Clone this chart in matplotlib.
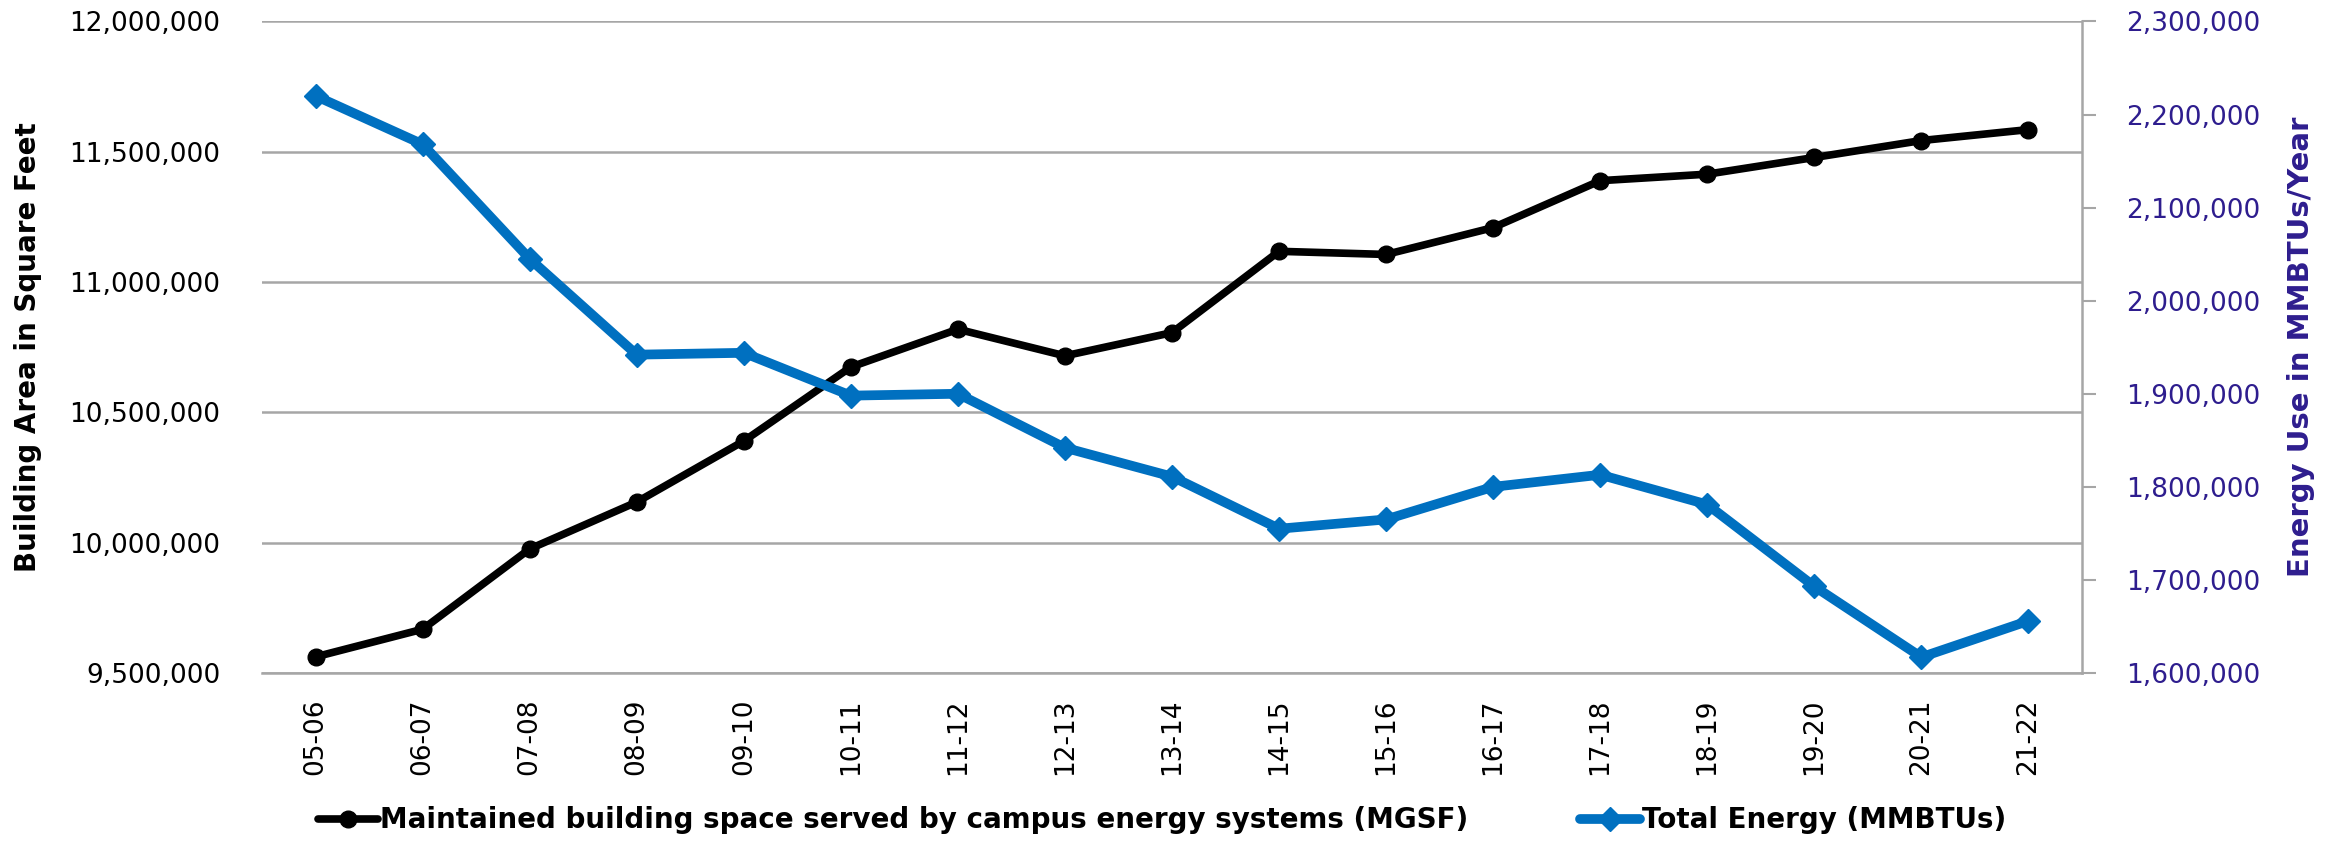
import matplotlib
matplotlib.use("Agg")
import matplotlib.pyplot as plt
from matplotlib.ticker import FuncFormatter, MultipleLocator

# fiscal years
years = ['05-06', '06-07', '07-08', '08-09', '09-10', '10-11', '11-12', '12-13',
         '13-14', '14-15', '15-16', '16-17', '17-18', '18-19', '19-20', '20-21', '21-22']

# maintained building space (sq ft), left axis
building_sqft = [9562000, 9668000, 9976000, 10156000, 10390000, 10674000, 10819000, 10717000,
                 10806000, 11118000, 11106000, 11209000, 11389000, 11414000, 11478000, 11543000, 11585000]

# total energy (MMBTUs), right axis
energy_mmbtu = [2220000, 2168000, 2045000, 1942000, 1944000, 1898000, 1900000, 1842000,
                1811000, 1755000, 1765000, 1800000, 1813000, 1781000, 1693000, 1617000, 1656000]

BLUE = '#0070C0'
INDIGO = '#2E1D8E'
GRID = '#A6A6A6'
FS = 19

plt.rcParams['font.family'] = ['DejaVu Sans']

fig = plt.figure(figsize=(23.48, 8.44), dpi=100)
ax = fig.add_axes([0.1116, 0.2026, 0.7751, 0.772])
ax2 = ax.twinx()

x = list(range(len(years)))

l1, = ax.plot(x, building_sqft, color='black', lw=5.5, marker='o', ms=12,
              solid_capstyle='round', zorder=3,
              label='Maintained building space served by campus energy systems (MGSF)')
l2, = ax2.plot(x, energy_mmbtu, color=BLUE, lw=7, marker='D', ms=12,
               solid_capstyle='round', zorder=3, label='Total Energy (MMBTUs)')

ax.set_xlim(-0.5, len(years) - 0.5)
ax.set_ylim(9500000, 12000000)
ax2.set_ylim(1600000, 2300000)
ax.yaxis.set_major_locator(MultipleLocator(500000))
ax2.yaxis.set_major_locator(MultipleLocator(100000))

fmt = FuncFormatter(lambda v, p: f'{int(v):,}')
ax.yaxis.set_major_formatter(fmt)
ax2.yaxis.set_major_formatter(fmt)

ax.set_xticks(x)
ax.set_xticklabels(years, rotation=90, fontsize=FS)
ax.tick_params(axis='x', length=0, pad=18)
ax.tick_params(axis='y', length=0, pad=30, labelsize=FS)
ax2.tick_params(axis='y', length=10, width=1.5, color=GRID, pad=22,
                labelsize=FS, labelcolor=INDIGO)

ax.grid(axis='y', color=GRID, lw=1.8)
ax.set_axisbelow(True)
for s in ['top', 'left', 'right']:
    ax.spines[s].set_visible(False)
    ax2.spines[s].set_visible(False)
ax2.spines['right'].set_visible(True)
ax2.spines['right'].set_color(GRID)
ax2.spines['right'].set_linewidth(1.8)
ax.spines['bottom'].set_color(GRID)
ax.spines['bottom'].set_linewidth(1.8)
ax2.spines['bottom'].set_visible(False)

ax.set_ylabel('Building Area in Square Feet', fontsize=20, fontweight='bold', va='center')
ax.yaxis.set_label_coords(-0.1286, 0.5)
ax2.set_ylabel('Energy Use in MMBTUs/Year', fontsize=21, fontweight='bold',
               color=INDIGO, va='center')
ax2.yaxis.set_label_coords(1.1203, 0.5)

leg = fig.legend(handles=[l1, l2], loc='center', bbox_to_anchor=(0.495, 0.028), ncol=2,
                 frameon=False, handlelength=2.15, handletextpad=0.1,
                 columnspacing=4.0, prop={'weight': 'bold', 'size': 20})

fig.savefig('out.png', dpi=100)
